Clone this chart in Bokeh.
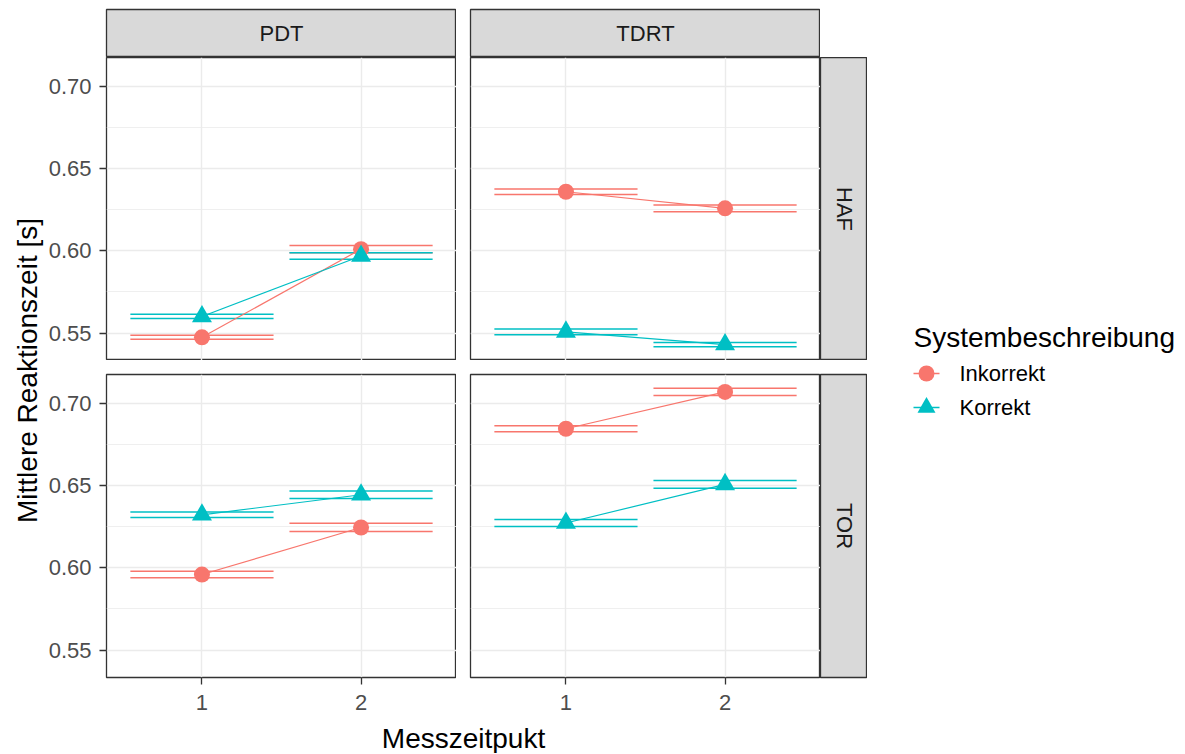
import math
from bokeh.plotting import figure
from bokeh.models import Range1d, LinearAxis, Grid, FixedTicker, PrintfTickFormatter, ColumnDataSource, Spacer
from bokeh.layouts import row, column
from bokeh.embed import file_html
from bokeh.resources import INLINE
from bokeh.core.properties import value

# ---------------- data ----------------
measure_points = [1, 2]
col_facets = ["PDT", "TDRT"]
row_facets = ["HAF", "TOR"]
groups = ["Inkorrekt", "Korrekt"]
group_colors = ["#F8766D", "#00BFC4"]
group_markers = ["circle", "triangle"]

y_ticks = [0.55, 0.60, 0.65, 0.70]
y_minor_ticks = [0.575, 0.625, 0.675]
x_ticks = [1, 2]

# mean reaction time [s] at Messzeitpunkt 1 and 2, and error half-widths
inkorrekt_pdt_haf = [0.5474, 0.6010]
inkorrekt_pdt_haf_err = [0.0012, 0.0022]
korrekt_pdt_haf = [0.5601, 0.5968]
korrekt_pdt_haf_err = [0.0013, 0.0020]

inkorrekt_tdrt_haf = [0.6359, 0.6258]
inkorrekt_tdrt_haf_err = [0.0017, 0.0020]
korrekt_tdrt_haf = [0.5507, 0.5430]
korrekt_tdrt_haf_err = [0.0017, 0.0013]

inkorrekt_pdt_tor = [0.5959, 0.6245]
inkorrekt_pdt_tor_err = [0.0020, 0.0025]
korrekt_pdt_tor = [0.6322, 0.6444]
korrekt_pdt_tor_err = [0.0017, 0.0023]

inkorrekt_tdrt_tor = [0.6845, 0.7069]
inkorrekt_tdrt_tor_err = [0.0018, 0.0022]
korrekt_tdrt_tor = [0.6272, 0.6507]
korrekt_tdrt_tor_err = [0.0021, 0.0023]

panels = {
    ("HAF", "PDT"): [(inkorrekt_pdt_haf, inkorrekt_pdt_haf_err), (korrekt_pdt_haf, korrekt_pdt_haf_err)],
    ("HAF", "TDRT"): [(inkorrekt_tdrt_haf, inkorrekt_tdrt_haf_err), (korrekt_tdrt_haf, korrekt_tdrt_haf_err)],
    ("TOR", "PDT"): [(inkorrekt_pdt_tor, inkorrekt_pdt_tor_err), (korrekt_pdt_tor, korrekt_pdt_tor_err)],
    ("TOR", "TDRT"): [(inkorrekt_tdrt_tor, inkorrekt_tdrt_tor_err), (korrekt_tdrt_tor, korrekt_tdrt_tor_err)],
}

# ---------------- styling / layout constants ----------------
FONT = value("Liberation Sans")
ERR_HALF = 0.45
FRAME_W, FRAME_H = 350, 303
LEFT_BORDER, GAP = 62, 14
STRIP_W, STRIP_H, STRIP_TOP = 47, 48, 9
BOTTOM_BORDER = 44
YTITLE_W, LEGEND_W = 44, 314
XTITLE_H = 32
BORDER_COLOR = "#333333"
GRID_COLOR = "#EBEBEB"

lo_all = min(m - e for pg in panels.values() for (ms, es) in pg for m, e in zip(ms, es))
hi_all = max(m + e for pg in panels.values() for (ms, es) in pg for m, e in zip(ms, es))
pad = (hi_all - lo_all) * 0.05
Y_LO, Y_HI = lo_all - pad, hi_all + pad
X_LO, X_HI = min(measure_points) - 0.6, max(measure_points) + 0.6


def base_fig(w, h, left=0, right=0, top=0, bottom=0, **kw):
    return figure(width=w, height=h, output_backend="svg", toolbar_location=None,
                  x_axis_type=None, y_axis_type=None, title=None,
                  min_border_left=left, min_border_right=right,
                  min_border_top=top, min_border_bottom=bottom,
                  border_fill_color="white", **kw)


def make_panel(ri, ci):
    rname, cname = row_facets[ri], col_facets[ci]
    left = LEFT_BORDER if ci == 0 else GAP
    top = 0 if ri == 0 else GAP
    bottom = BOTTOM_BORDER if ri == 1 else 0
    p = base_fig(left + FRAME_W, top + FRAME_H + bottom, left=left, top=top, bottom=bottom,
                 x_range=Range1d(X_LO, X_HI), y_range=Range1d(Y_LO, Y_HI),
                 background_fill_color="white", outline_line_color=BORDER_COLOR,
                 outline_line_width=1.3)
    p.add_layout(Grid(dimension=0, ticker=FixedTicker(ticks=x_ticks),
                      grid_line_color=GRID_COLOR, grid_line_width=1.4), "center")
    p.add_layout(Grid(dimension=1, ticker=FixedTicker(ticks=y_ticks, minor_ticks=y_minor_ticks),
                      grid_line_color=GRID_COLOR, grid_line_width=1.4,
                      minor_grid_line_color=GRID_COLOR, minor_grid_line_width=0.8), "center")
    axis_style = dict(axis_line_color=None, major_tick_line_color=BORDER_COLOR,
                      major_tick_line_width=1.3, major_tick_in=0, major_tick_out=7,
                      minor_tick_line_color=None, major_label_text_font="Liberation Sans",
                      major_label_text_font_size="22px", major_label_text_color="#4D4D4D")
    if ci == 0:
        p.add_layout(LinearAxis(ticker=FixedTicker(ticks=y_ticks), major_label_standoff=8,
                                formatter=PrintfTickFormatter(format="%.2f"), **axis_style), "left")
    if ri == 1:
        p.add_layout(LinearAxis(ticker=FixedTicker(ticks=x_ticks), major_label_standoff=10,
                                formatter=PrintfTickFormatter(format="%d"), **axis_style), "below")

    sources = []
    for (means, errs) in panels[(rname, cname)]:
        sources.append(ColumnDataSource(dict(
            x=measure_points, y=means,
            lo=[m - e for m, e in zip(means, errs)], hi=[m + e for m, e in zip(means, errs)],
            x0=[x - ERR_HALF for x in measure_points], x1=[x + ERR_HALF for x in measure_points])))
    for src, col in zip(sources, group_colors):
        p.segment(x0="x0", y0="hi", x1="x1", y1="hi", source=src, line_color=col, line_width=1.5)
        p.segment(x0="x0", y0="lo", x1="x1", y1="lo", source=src, line_color=col, line_width=1.5)
        p.segment(x0="x", y0="lo", x1="x", y1="hi", source=src, line_color=col, line_width=1.5)
    for src, col in zip(sources, group_colors):
        p.line("x", "y", source=src, line_color=col, line_width=1.2)
    for src, col, mk in zip(sources, group_colors, group_markers):
        p.scatter("x", "y", source=src, marker=mk, size=16 if mk == "circle" else 20,
                  fill_color=col, line_color=col, line_width=0)
    return p


def make_strip(label, w, h, left=0, top=0, bottom=0, vertical=False):
    s = base_fig(w, h, left=left, top=top, bottom=bottom,
                 x_range=Range1d(0, 1), y_range=Range1d(0, 1),
                 background_fill_color="#D9D9D9", outline_line_color=BORDER_COLOR,
                 outline_line_width=1.3)
    s.text(x=[0.5], y=[0.5], text=[label], text_align="center", text_baseline="middle",
           angle=-math.pi / 2 if vertical else 0, text_font=FONT,
           text_font_size="22px", text_color="#1A1A1A")
    return s


# top strips
top_strips = [make_strip(col_facets[0], LEFT_BORDER + FRAME_W, STRIP_H + STRIP_TOP, left=LEFT_BORDER, top=STRIP_TOP),
              make_strip(col_facets[1], GAP + FRAME_W, STRIP_H + STRIP_TOP, left=GAP, top=STRIP_TOP)]
strip_row = row(*top_strips, Spacer(width=STRIP_W, height=STRIP_H + STRIP_TOP))

panel_rows = []
for ri in range(2):
    top = 0 if ri == 0 else GAP
    bottom = BOTTOM_BORDER if ri == 1 else 0
    rs = make_strip(row_facets[ri], STRIP_W, top + FRAME_H + bottom, top=top, bottom=bottom, vertical=True)
    panel_rows.append(row(make_panel(ri, 0), make_panel(ri, 1), rs))

grid_w = LEFT_BORDER + FRAME_W + GAP + FRAME_W + STRIP_W
total_h = STRIP_TOP + STRIP_H + FRAME_H + GAP + FRAME_H + BOTTOM_BORDER + XTITLE_H

# x-axis title
xt = base_fig(grid_w, XTITLE_H, x_range=Range1d(0, grid_w), y_range=Range1d(XTITLE_H, 0),
              background_fill_color="white", outline_line_color=None)
x_center = (LEFT_BORDER + (grid_w - STRIP_W)) / 2
xt.text(x=[x_center], y=[XTITLE_H / 2 + 1], text=["Messzeitpukt"], text_align="center",
        text_baseline="middle", text_font=FONT, text_font_size="28px", text_color="#000000")

# y-axis title
yt = base_fig(YTITLE_W, total_h, x_range=Range1d(0, YTITLE_W), y_range=Range1d(total_h, 0),
              background_fill_color="white", outline_line_color=None)
y_center = STRIP_TOP + STRIP_H + (2 * FRAME_H + GAP) / 2 + 3
yt.text(x=[27], y=[y_center], text=["Mittlere Reaktionszeit [s]"], angle=math.pi / 2,
        text_align="center", text_baseline="middle", text_font=FONT,
        text_font_size="28px", text_color="#000000")

# legend
lg = base_fig(LEGEND_W, total_h, x_range=Range1d(0, LEGEND_W), y_range=Range1d(total_h, 0),
              background_fill_color="white", outline_line_color=None)
LEG_X, LEG_TITLE_Y, LEG_ITEM_Y, LEG_ITEM_DY, KEY_W = 46, 337, 373, 34, 26
lg.text(x=[LEG_X], y=[LEG_TITLE_Y], text=["Systembeschreibung"], text_align="left",
        text_baseline="alphabetic", text_font=FONT, text_font_size="28px", text_color="#000000")
for i, (g, col, mk) in enumerate(zip(groups, group_colors, group_markers)):
    yy = LEG_ITEM_Y + i * LEG_ITEM_DY
    lg.segment(x0=[LEG_X], y0=[yy], x1=[LEG_X + KEY_W], y1=[yy], line_color=col, line_width=1.5)
    lg.scatter(x=[LEG_X + KEY_W / 2], y=[yy], marker=mk, size=16 if mk == "circle" else 18,
               fill_color=col, line_color=col, line_width=0)
    lg.text(x=[LEG_X + KEY_W + 20], y=[yy], text=[g], text_align="left", text_baseline="middle",
            text_font=FONT, text_font_size="22px", text_color="#000000")

grid_col = column(strip_row, panel_rows[0], panel_rows[1], xt)
layout = row(yt, grid_col, lg)

open("out.html", "w").write(file_html(layout, INLINE))
